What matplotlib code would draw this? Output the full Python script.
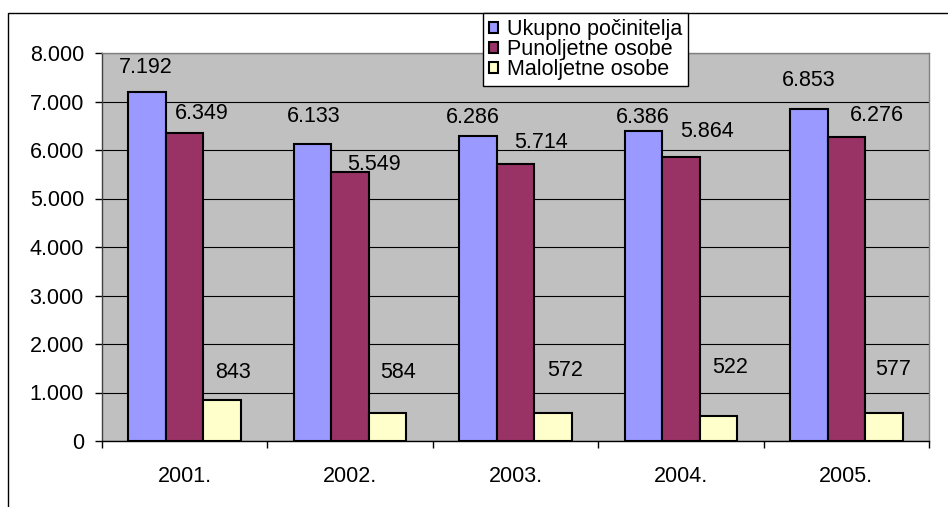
import numpy as np
import matplotlib
matplotlib.use("Agg")
import matplotlib.pyplot as plt
from matplotlib.patches import Rectangle
from matplotlib.ticker import FuncFormatter

plt.rcParams['font.family'] = ['Liberation Sans', 'DejaVu Sans']

# data
years = ["2001.", "2002.", "2003.", "2004.", "2005."]
ukupno = [7192, 6133, 6286, 6386, 6853]
punoljetne = [6349, 5549, 5714, 5864, 6276]
maloljetne = [843, 584, 572, 522, 577]
series_names = ["Ukupno počinitelja", "Punoljetne osobe", "Maloljetne osobe"]

colors = ["#9999FF", "#993366", "#FFFFCC"]
# label offsets (pixels) relative to bar top centre, as placed in the original
label_offsets = [
    [(-1, 25), (1, 27), (-5, 19), (-1, 14), (0, 28)],
    [(17, 20), (24, 7), (26, 21), (26, 25), (31, 21)],
    [(11, 28), (10, 40), (12, 43), (12, 48), (9, 44)],
]

def fmt(v, pos=None):
    return f"{int(v):,}".replace(",", ".")

fig = plt.figure(figsize=(9.48, 5.07), dpi=100)
ax = fig.add_axes([102/948, 1-441/507, (929-102)/948, (441-53)/507])
ax.set_facecolor("#C0C0C0")

x = np.arange(len(years))
w = 0.227
for i, (vals, name) in enumerate(zip([ukupno, punoljetne, maloljetne], series_names)):
    pos = x + (i - 1) * w
    ax.bar(pos, vals, w, color=colors[i], edgecolor="black", linewidth=1.5,
           label=name, zorder=3)
    for j, v in enumerate(vals):
        dx, dy = label_offsets[i][j]
        ax.annotate(fmt(v), (pos[j], v), xytext=(dx, dy), textcoords="offset pixels",
                    ha="center", va="center", fontsize=15.5, zorder=4)

ax.set_xlim(-0.5, 4.5)
ax.set_ylim(0, 8000)
ax.set_yticks(range(0, 8001, 1000))
ax.yaxis.set_major_formatter(FuncFormatter(fmt))
ax.set_xticks(x)
ax.set_xticklabels(years)
ax.set_xticks(np.arange(-0.5, 5, 1), minor=True)
ax.tick_params(axis="x", which="major", length=0, pad=18, labelsize=15.5)
ax.tick_params(axis="x", which="minor", length=5, width=1, color="black")
ax.tick_params(axis="y", length=5, width=1, pad=8, labelsize=15.5)
ax.grid(axis="y", color="black", linewidth=0.8, zorder=1)
ax.set_axisbelow(True)

ax.spines["top"].set_color("#808080")
ax.spines["right"].set_color("#808080")
ax.spines["left"].set_color("#404040")
ax.spines["bottom"].set_color("black")
for s in ax.spines.values():
    s.set_linewidth(1)

# outer chart border
fig.patches.append(Rectangle((8/948, -0.1), 1.2, 1-13/507+0.1, transform=fig.transFigure,
                             fill=False, edgecolor="black", linewidth=1, zorder=0))

leg = fig.legend(loc="upper left", bbox_to_anchor=(483/948, 1-13/507),
                 bbox_transform=fig.transFigure, borderaxespad=0, fontsize=15.5,
                 frameon=True, fancybox=False, edgecolor="black", framealpha=1,
                 labelspacing=-0.05, handlelength=0.42, handleheight=0.42,
                 handletextpad=0.4, borderpad=0.28)
leg.get_frame().set_linewidth(1)

fig.savefig("out.png", dpi=100)
